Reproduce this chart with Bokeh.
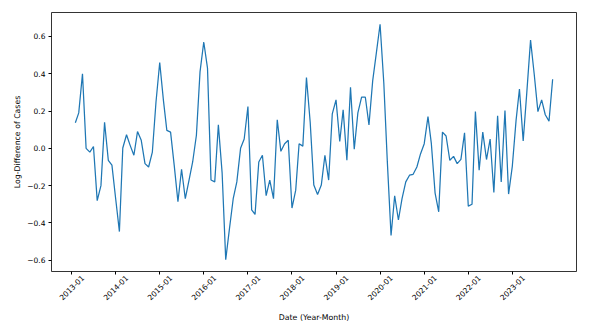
import math
import pandas as pd
from bokeh.plotting import figure
from bokeh.models import Range1d, FixedTicker, ColumnDataSource, LinearAxis
from bokeh.embed import file_html
from bokeh.resources import INLINE

# Monthly log-difference values, 2013-02 .. 2023-12
start_month = "2013-02-01"
log_diff = [
    0.137, 0.19, 0.40, 0.0, -0.02, 0.01, -0.28, -0.20, 0.14, -0.064, -0.09,
    -0.27, -0.446, 0.002, 0.073, 0.016, -0.037, 0.09, 0.043, -0.082, -0.10, -0.02, 0.247,
    0.46, 0.256, 0.096, 0.087, -0.09, -0.286, -0.112, -0.27, -0.17, -0.073, 0.07, 0.41,
    0.57, 0.43, -0.17, -0.18, 0.126, -0.13, -0.597, -0.43, -0.27, -0.18, 0.0, 0.05,
    0.224, -0.33, -0.354, -0.073, -0.037, -0.254, -0.17, -0.27, 0.153, -0.016, 0.025, 0.043,
    -0.32, -0.224, 0.025, 0.012, 0.38, 0.14, -0.197, -0.247, -0.197, -0.037, -0.17, 0.185,
    0.26, 0.037, 0.206, -0.064, 0.327, -0.005, 0.19, 0.274, 0.274, 0.126, 0.363, 0.51,
    0.665, 0.35, -0.07, -0.467, -0.254, -0.384, -0.27, -0.18, -0.144, -0.139, -0.1, -0.03,
    0.025, 0.17, 0.025, -0.24, -0.34, 0.087, 0.066, -0.064, -0.043, -0.082, -0.059, 0.083,
    -0.31, -0.30, 0.197, -0.117, 0.087, -0.06, 0.05, -0.237, 0.175, -0.18, 0.203, -0.245,
    -0.095, 0.15, 0.318, 0.039, 0.30, 0.58, 0.40, 0.197, 0.26, 0.18, 0.146, 0.37,
]
tick_years = list(range(2013, 2024))
tick_labels = [f"{y}-01" for y in tick_years]
y_ticks = [-0.6, -0.4, -0.2, 0.0, 0.2, 0.4, 0.6]
x_title = "Date (Year-Month)"
y_title = "Log-Difference of Cases"

dates = pd.date_range(start_month, periods=len(log_diff), freq="MS")
src = ColumnDataSource(dict(date=dates, value=log_diff))

FONT = "DejaVu Sans"
TICK_FS = 7.5
TITLE_FS = "7.8px"
W, H = 596, 327
BL, BR, BT, BB = 51, 20, 12, 56
frame_w = W - BL - BR

p = figure(width=W, height=H, x_axis_type="datetime",
           output_backend="svg", toolbar_location=None,
           min_border_left=BL, min_border_right=BR, min_border_top=BT, min_border_bottom=BB)

# matplotlib-style 5% margins
t0 = dates[0].value / 1e6
t1 = dates[-1].value / 1e6
dx = (t1 - t0) * 0.05
p.x_range = Range1d(t0 - dx, t1 + dx)
ymin, ymax = min(log_diff), max(log_diff)
dy = (ymax - ymin) * 0.05
p.y_range = Range1d(ymin - dy, ymax + dy)

p.line("date", "value", source=src, line_color="#1f77b4", line_width=1.25)

p.xgrid.visible = False
p.ygrid.visible = False
p.outline_line_color = "black"
p.outline_line_width = 0.8
p.outline_line_alpha = 1.0

tick_ms = [int(pd.Timestamp(f"{y}-01-01").value // 10**6) for y in tick_years]

# primary x axis: tick marks only
xa = p.xaxis[0]
xa.ticker = FixedTicker(ticks=tick_ms)
xa.major_label_overrides = {t: "" for t in tick_ms}
xa.major_label_standoff = 0

p.yaxis.ticker = FixedTicker(ticks=y_ticks)
p.yaxis.major_label_overrides = {t: (f"{t:.1f}".replace("-", "\u2212")) for t in y_ticks}

for ax in (xa, p.yaxis[0]):
    ax.axis_line_color = None
    ax.major_tick_line_color = "black"
    ax.major_tick_out = 3
    ax.major_tick_in = 0
    ax.minor_tick_line_color = None
    ax.major_label_text_font = FONT
    ax.major_label_text_font_size = f"{TICK_FS}px"
    ax.major_label_text_color = "black"
p.yaxis.major_label_standoff = 3

# secondary axis carrying the rotated labels, shifted so each label is centred on its tick
ux = (p.x_range.end - p.x_range.start) / frame_w
shift_px = 0.5 * 0.7071 * 4.18 * TICK_FS
label_pos = [int(t + shift_px * ux) for t in tick_ms]
xl = LinearAxis(ticker=FixedTicker(ticks=label_pos),
                major_label_overrides=dict(zip(label_pos, tick_labels)),
                major_label_orientation=math.pi / 4,
                major_label_standoff=2,
                major_tick_line_color=None, major_tick_out=0, major_tick_in=0,
                minor_tick_line_color=None, axis_line_color=None,
                major_label_text_font=FONT, major_label_text_font_size=f"{TICK_FS}px",
                major_label_text_color="black",
                axis_label=x_title, axis_label_standoff=7,
                axis_label_text_font=FONT, axis_label_text_font_size=TITLE_FS,
                axis_label_text_font_style="normal", axis_label_text_color="black")
p.add_layout(xl, "below")

ya = p.yaxis[0]
ya.axis_label = y_title
ya.axis_label_standoff = 2
ya.axis_label_text_font = FONT
ya.axis_label_text_font_size = TITLE_FS
ya.axis_label_text_font_style = "normal"
ya.axis_label_text_color = "black"

open("out.html", "w").write(file_html(p, INLINE))
